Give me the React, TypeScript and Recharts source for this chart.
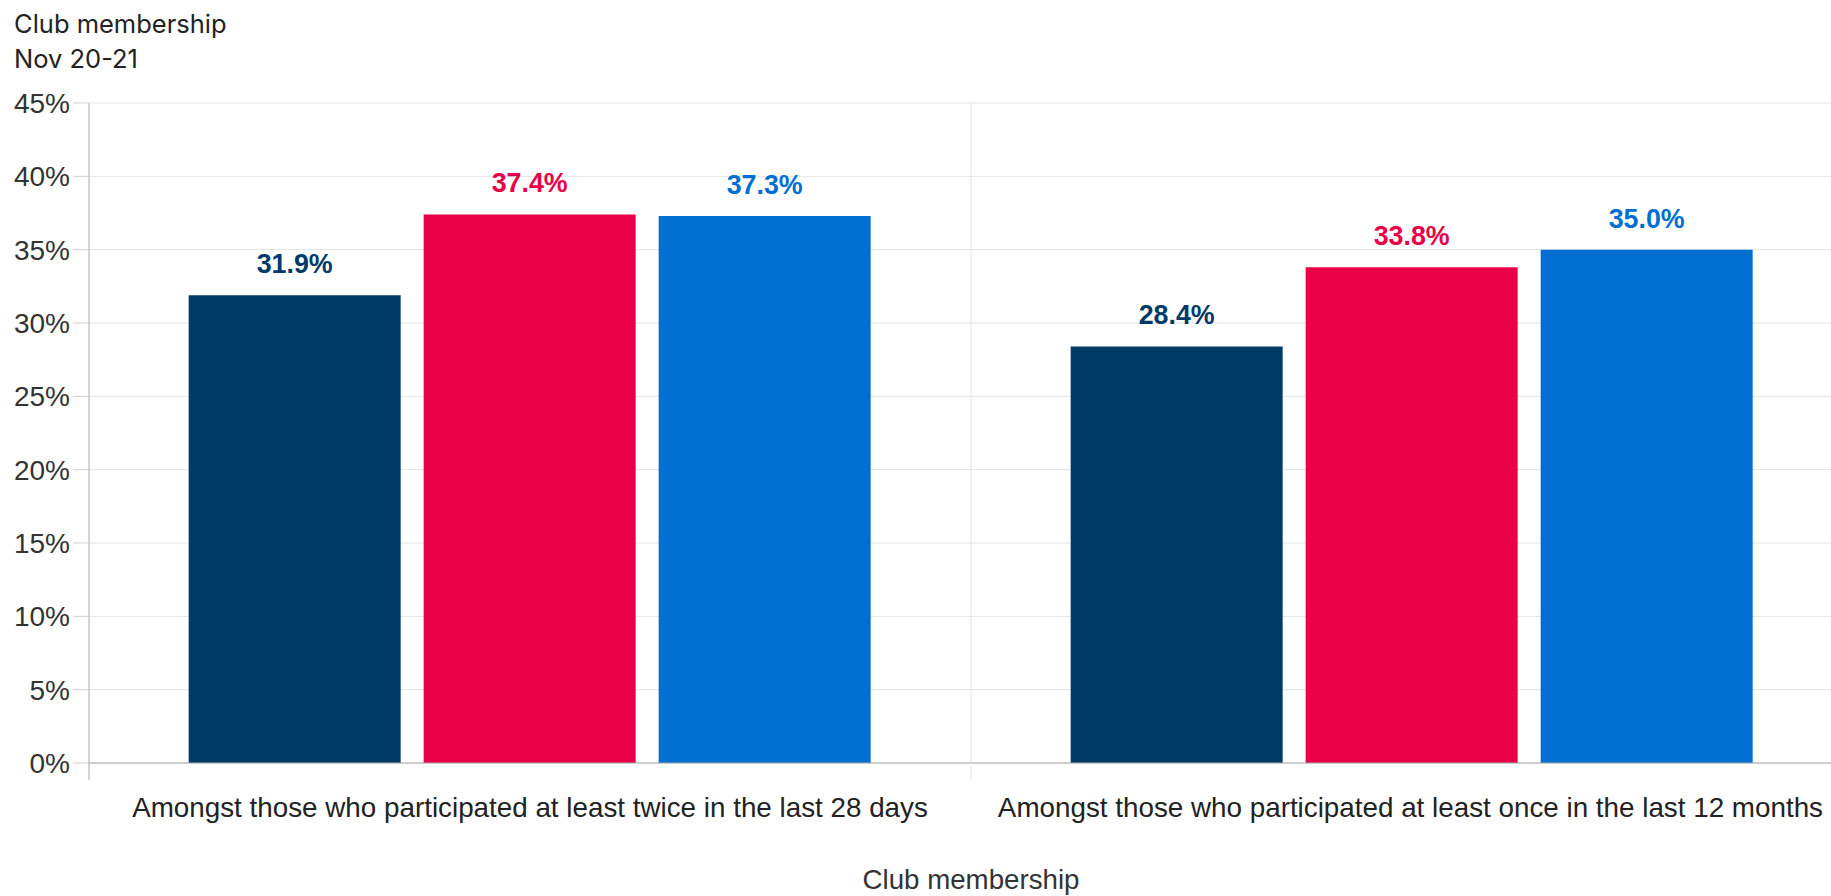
import React from 'react';
import { BarChart, Bar, XAxis, YAxis, CartesianGrid, LabelList, ReferenceLine, Label } from 'recharts';

const categories = [
  'Amongst those who participated at least twice in the last 28 days',
  'Amongst those who participated at least once in the last 12 months',
];
const navyValues = [31.9, 28.4];
const redValues = [37.4, 33.8];
const blueValues = [37.3, 35.0];
const yTicks = [0, 5, 10, 15, 20, 25, 30, 35, 40, 45];

const titleText = 'Club membership';
const subtitleText = 'Nov 20-21';
const xAxisTitle = 'Club membership';

const VIEW_W = 1831;
const VIEW_H = 896;
const CHART_W = 1860;
const FONT = "'Liberation Sans', Arial, sans-serif";
const CAT_FONT_SIZE = 27.8;

const NAVY = '#003b67';
const RED = '#ea0046';
const BLUE = '#006fd1';
const GRID = '#e3e3e3';
const AXIS = '#a8a8a8';

const data = categories.map((name, i) => ({
  name,
  navy: navyValues[i],
  red: redValues[i],
  blue: blueValues[i],
}));

let measureCtx: CanvasRenderingContext2D | null = null;
const measure = (text: string, font: string) => {
  if (!measureCtx) measureCtx = document.createElement('canvas').getContext('2d');
  if (!measureCtx) return text.length * 13;
  measureCtx.font = font;
  return measureCtx.measureText(text).width;
};

const CategoryTick = (props: any) => {
  const { x, y, payload, index, visibleTicksCount } = props;
  const half = payload && payload.offset ? payload.offset : 441;
  const label = String(payload.value);
  const w = measure(label, `${CAT_FONT_SIZE}px ${FONT}`);
  // keep the last label inside the picture, like the source does
  const cx = Math.min(x, VIEW_W - 8 - w / 2);
  return (
    <g>
      {index === 0 && <line x1={x - half} x2={x - half} y1={y} y2={y + 17} stroke={AXIS} />}
      <line x1={x + half} x2={x + half} y1={y} y2={y + 17} stroke={index === visibleTicksCount - 1 ? AXIS : GRID} />
      <text x={cx} y={y + 54} textAnchor="middle" fill="#222" fontSize={CAT_FONT_SIZE} fontFamily={FONT}>
        {label}
      </text>
    </g>
  );
};

const fmt = (v: any) => `${Number(v).toFixed(1)}%`;

const App: React.FC = () => {
  return (
    <div style={{ position: 'absolute', left: 0, top: 0, width: VIEW_W, height: VIEW_H, overflow: 'hidden', background: '#fff' }}>
      <svg width={400} height={90} style={{ position: 'absolute', left: 0, top: 0 }}>
        <text x={14} y={33} fontSize={25.5} fontFamily="Inter, 'Noto Sans', sans-serif" fill="#222">{titleText}</text>
        <text x={14} y={68} fontSize={25.5} fontFamily="Inter, 'Noto Sans', sans-serif" fill="#222">{subtitleText}</text>
      </svg>
      <BarChart
        width={CHART_W}
        height={VIEW_H}
        data={data}
        margin={{ top: 103, right: 7, bottom: 0, left: 0 }}
        barCategoryGap="11.3%"
        barGap={23}
        style={{ fontFamily: FONT }}
      >
        <CartesianGrid vertical={false} stroke={GRID} />
        <ReferenceLine x={categories[1]} position="start" stroke={GRID} />
        <XAxis
          dataKey="name"
          height={133}
          tickSize={0}
          tickMargin={0}
          tickLine={false}
          axisLine={{ stroke: AXIS }}
          interval={0}
          tick={<CategoryTick />}
        >
          <Label value={xAxisTitle} position="insideBottom" offset={7} fontSize={27.7} fill="#333" fontFamily={FONT} />
        </XAxis>
        <YAxis
          width={89}
          domain={[0, 45]}
          ticks={yTicks}
          interval={0}
          tickFormatter={(v: number) => `${v}%`}
          tickSize={16}
          tickMargin={3}
          tickLine={{ stroke: '#cfcfcf' }}
          axisLine={{ stroke: AXIS }}
          tick={{ fill: '#333', fontSize: 28, fontFamily: FONT }}
        />
        <Bar dataKey="navy" fill={NAVY} isAnimationActive={false}>
          <LabelList dataKey="navy" position="top" offset={22} formatter={fmt} fill={NAVY} fontSize={26.8} fontWeight="bold" fontFamily={FONT} />
        </Bar>
        <Bar dataKey="red" fill={RED} isAnimationActive={false}>
          <LabelList dataKey="red" position="top" offset={22} formatter={fmt} fill={RED} fontSize={26.8} fontWeight="bold" fontFamily={FONT} />
        </Bar>
        <Bar dataKey="blue" fill={BLUE} isAnimationActive={false}>
          <LabelList dataKey="blue" position="top" offset={22} formatter={fmt} fill={BLUE} fontSize={26.8} fontWeight="bold" fontFamily={FONT} />
        </Bar>
      </BarChart>
    </div>
  );
};

export default App;
